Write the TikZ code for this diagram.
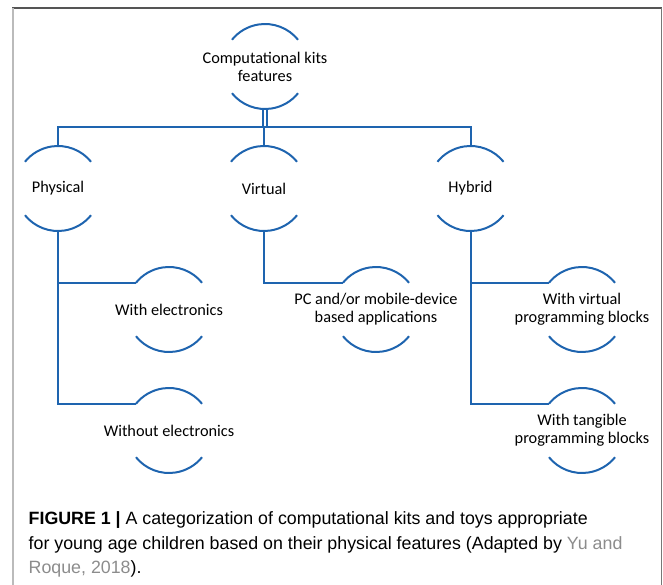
\documentclass[tikz,border=0pt]{standalone}
\usepackage{fontspec}
\setmainfont{Carlito}
\newfontfamily\capfont{Liberation Sans}
\definecolor{kitblue}{RGB}{30,100,175}
\definecolor{capgray}{RGB}{140,140,140}
\tikzset{
  kit/.style={circle, minimum size=85pt, inner sep=0pt, outer sep=0pt},
  lbl/.style={font=\fontsize{16.3}{18}\selectfont, align=center, inner sep=0pt, text=black},
  arcline/.style={draw=kitblue, line width=2pt},
  conn/.style={draw=kitblue, line width=2pt},
}
\begin{document}
\begin{tikzpicture}[x=1pt,y=-1pt]
\useasboundingbox (0,0) rectangle (663,585);
% frame
\draw[draw={rgb,255:red,85;green,85;blue,85}, line width=1.5pt] (12,8) -- (662,8);
\draw[draw={rgb,255:red,187;green,187;blue,187}, line width=2pt] (12.5,8) -- (12.5,585);
\draw[draw={rgb,255:red,119;green,119;blue,119}, line width=1.5pt] (661.5,8) -- (661.5,585);

% nodes
\node[kit, label={[lbl]center:Computational kits\\features}] (top) at (265,66.5) {};
\node[kit, label={[lbl]center:Physical}] (phys) at (58,188.5) {};
\node[kit, label={[lbl]center:Virtual}] (virt) at (264,188.5) {};
\node[kit, label={[lbl]center:Hybrid}] (hyb) at (470.5,188.5) {};
\node[kit, label={[lbl]center:With electronics}] (wel) at (169,309.5) {};
\node[kit, label={[lbl]center:Without electronics}] (wol) at (169,430.5) {};
\node[kit, label={[lbl]center:PC and/or mobile-device\\based applications}] (pc) at (376,309.5) {};
\node[kit, label={[lbl]center:With virtual\\programming blocks}] (wv) at (582,309.5) {};
\node[kit, label={[lbl]center:With tangible\\programming blocks}] (wt) at (582,430.5) {};

\foreach \n in {top,phys,virt,hyb,wel,wol,pc,wv,wt}{
  \draw[arcline] (\n.39) arc[start angle=39, end angle=141, radius=42.5pt];
  \draw[arcline] (\n.219) arc[start angle=219, end angle=321, radius=42.5pt];
}

% connectors
\coordinate (bar) at (264,127);
\draw[conn] ([xshift=-1.8pt]top.south) -- ([xshift=-1.8pt]top.south |- bar);
\draw[conn] ([xshift=1.6pt]top.south) -- ([xshift=1.6pt]top.south |- bar);
\draw[conn] (phys.north) |- (bar) -| (hyb.north);
\draw[conn] (bar) -- (virt.north);
\draw[conn] (phys.south) |- (wel.141);
\draw[conn] (phys.south) |- (wol.141);
\draw[conn] (virt.south) |- (pc.141);
\draw[conn] (hyb.south) |- (wv.141);
\draw[conn] (hyb.south) |- (wt.141);

% caption (base anchor = baseline of last line)
\node[anchor=base west, inner sep=0pt, align=left,
      font=\capfont\fontsize{17.8}{24.2}\selectfont] (cap) at (28.5,573.3)
  {\textbf{FIGURE 1 |} A categorization of computational kits and toys appropriate\\
   for young age children based on their physical features (Adapted by \textcolor{capgray}{Yu and}\\
   \textcolor{capgray}{Roque, 2018}).};
\end{tikzpicture}
\end{document}
